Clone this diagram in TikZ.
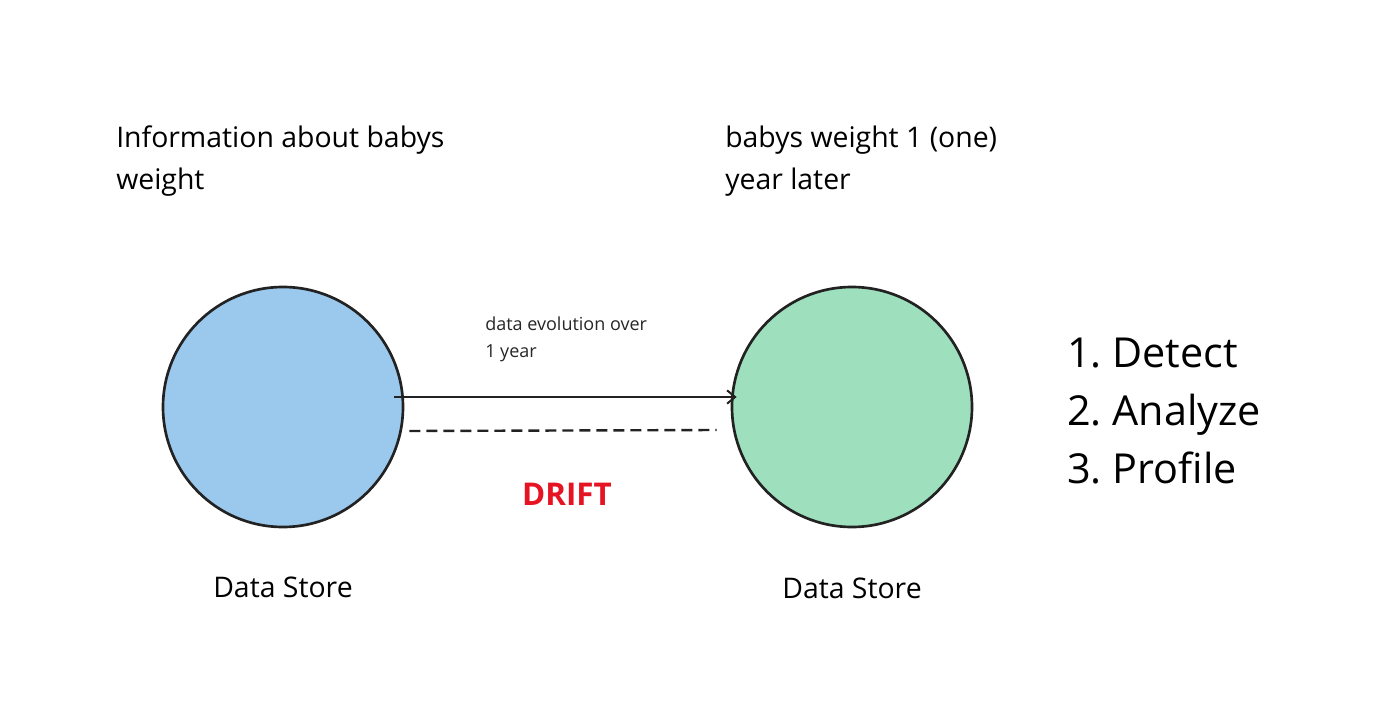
\documentclass[tikz,border=0pt]{standalone}
\usepackage{fontspec}
\setmainfont{Open Sans}
\usepackage{tikz}
\usetikzlibrary{arrows.meta,calc}

\definecolor{storeblue}{RGB}{155,201,238}
\definecolor{storegreen}{RGB}{158,224,190}
\definecolor{driftred}{RGB}{230,20,35}
\definecolor{inkline}{RGB}{34,34,34}

\tikzset{
  store/.style={circle, draw=inkline, line width=2pt, minimum size=180pt, inner sep=0pt},
  caption/.style={anchor=base west, font=\fontsize{21.3}{31.5}\selectfont, inner sep=0pt, align=left, text=black},
  smallnote/.style={anchor=base west, font=\fontsize{13.5}{20}\selectfont, inner sep=0pt, align=left, text=black!85},
  steplist/.style={anchor=base west, font=\fontsize{31}{43.5}\selectfont, inner sep=0pt, align=left, text=black}
}

\begin{document}
\frenchspacing
\begin{tikzpicture}[x=0.75pt,y=0.75pt,yscale=-1]
\useasboundingbox (0,0) rectangle (1382,724);

%Shape: Circle [id:lstore]
\node[store, fill=storeblue] (lstore) at (283,407) {};
%Shape: Circle [id:rstore]
\node[store, fill=storegreen] (rstore) at (852,407) {};

%Text Node [id:linfo]
\node[caption] (linfo) at (116,189) {Information about babys\\weight};
%Text Node [id:rinfo]
\node[caption] (rinfo) at (725,189) {babys weight 1 (one)\\year later};

%Text Node [id:lname]
\node[caption, anchor=base] (lname) at (283,597) {Data Store};
%Text Node [id:rname]
\node[caption, anchor=base] (rname) at (852,598) {Data Store};

%Text Node [id:evol]
\node[smallnote] (evol) at (485,357) {data evolution over\\1 year};

%Text Node [id:drift]
\node[caption, anchor=base, font=\fontsize{23.5}{28}\selectfont\bfseries, text=driftred] (drift) at (567,505) {DRIFT};

%Text Node [id:steps]
\node[steplist] (steps) at (1067,483) {1. Detect\\2. Analyze\\3. Profile};

%Straight Lines [id:evolarrow]
\draw[inkline, line width=1.8pt, -{Straight Barb[length=6pt,width=10pt,line width=1.5pt]}]
  ($(lstore.east)+(-10,-10)$) -- ($(rstore.west)+(6,-10)$);
%Straight Lines [id:driftline]
\draw[inkline, line width=1.8pt, dash pattern=on 8.25pt off 4.5pt]
  ($(lstore.east)+(5,24)$) -- ($(rstore.west)+(-14,23)$);

\end{tikzpicture}
\end{document}
